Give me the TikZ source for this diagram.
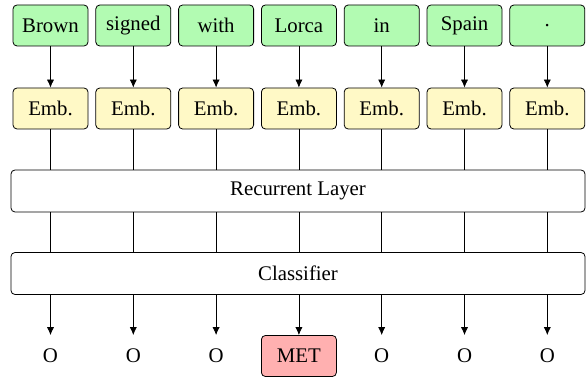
\documentclass[tikz,border=0pt]{standalone}
\usepackage{fontspec}
\setmainfont{Liberation Serif}
\usetikzlibrary{positioning,arrows.meta}

\definecolor{wordgreen}{RGB}{178,251,178}
\definecolor{embyellow}{RGB}{255,249,198}
\definecolor{tagred}{RGB}{255,176,176}

\begin{document}
\begin{tikzpicture}[x=0.5pt,y=-0.5pt,
			font=\fontsize{10.4}{12.5}\selectfont,
			>={Latex[length=4pt,width=3.6pt]},
			box/.style={draw, rounded corners=2pt, minimum width=37.5pt, minimum height=20.5pt, inner sep=0pt},
			word/.style={box, fill=wordgreen},
			emb/.style={box, fill=embyellow},
			layer/.style={draw, rounded corners=2pt, minimum width=287pt, minimum height=21pt, inner sep=0pt},
			tag/.style={minimum width=37.5pt, minimum height=20.5pt, inner sep=0pt},
			met/.style={box, fill=tagred}]
		\useasboundingbox (0,0) rectangle (587,378);
		% input words and embeddings
		\foreach \w [count=\i] in {Brown,signed,with,Lorca,in,Spain,.} {
			\node[word] (w\i) at ({50.5+82.8*(\i-1)},25.5) {\w};
			\node[emb] (e\i) at ({50.5+82.8*(\i-1)},108.5) {Emb.};
			\draw[->] (w\i) -- (e\i);
		}
		\node[layer] (rnn) at (298,191) {Recurrent Layer};
		\node[layer] (cls) at (298,273.5) {Classifier};
		% output tags
		\foreach \t/\s [count=\i] in {O/tag,O/tag,O/tag,MET/met,O/tag,O/tag,O/tag} {
			\node[\s] (o\i) at ({50.5+82.8*(\i-1)},356) {\t};
			\draw (e\i) -- (e\i |- rnn.north);
			\draw (e\i |- rnn.south) -- (e\i |- cls.north);
			\draw[->] (o\i |- cls.south) -- (o\i);
		}
	\end{tikzpicture}
\end{document}
